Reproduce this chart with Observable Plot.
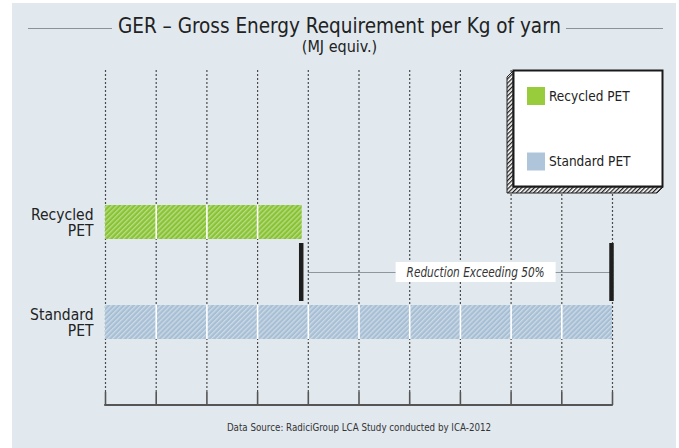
<!DOCTYPE html>
<html>
<head>
<meta charset="utf-8">
<script src="https://cdn.jsdelivr.net/npm/d3@7"></script>
<script src="https://cdn.jsdelivr.net/npm/@observablehq/plot@0.6"></script>
<style>
  body { margin: 0; background: #fff; }
  #wrap { position: relative; width: 679px; height: 448px; overflow: hidden;
    font-family: "DejaVu Sans Condensed", "Liberation Sans Narrow", sans-serif; color: #222; }
  #panel { position: absolute; left: 12px; top: 3px; width: 664px; height: 445px; background: #e1e9ef; }
  #title { position: absolute; left: 0; width: 679px; top: 13px; text-align: center; font-size: 20.5px; line-height: 26px; white-space: nowrap; }
  #title span { display: inline-block; }
  .tline { position: absolute; top: 28px; height: 1px; background: #8a9399; }
  #subtitle { position: absolute; left: 0; width: 679px; top: 38px; text-align: center; font-size: 16px; line-height: 17px; }
  #caption { position: absolute; left: 159px; width: 400px; top: 421px; text-align: center; font-size: 9.7px; line-height: 14px; color: #333; }
  #chart { position: absolute; left: 0; top: 0; }
</style>
</head>
<body>
<div id="wrap">
  <div id="panel"></div>
  <div id="chart"></div>
  <div class="tline" id="tl"></div>
  <div class="tline" id="tr"></div>
  <div id="title"><span id="titletext">GER – Gross Energy Requirement per Kg of yarn</span></div>
  <div id="subtitle">(MJ equiv.)</div>
  <div id="caption">Data Source: RadiciGroup LCA Study conducted by ICA-2012</div>
</div>
<script>
// ---- data ----
const categories = ["Recycled PET", "Standard PET"];
const rowLabels = ["Recycled\nPET", "Standard\nPET"];
const values = [38.8, 100];
const gridTicks = [0, 10, 20, 30, 40, 50, 60, 70, 80, 90, 100];
const barColors = ["#88c334", "#a7bfd4"];
const swatchColors = ["#99cc3d", "#afc5d9"];
const legendLabels = ["Recycled PET", "Standard PET"];
const annotationText = "Reduction Exceeding 50%";
const annotationX = 73;
const gapRow = " ";

const rows = [categories[0], gapRow, categories[1]];
const data = categories.map((c, i) => ({ name: c, label: rowLabels[i], value: values[i] }));
const whiteLines = data.flatMap(d => gridTicks.filter(t => t > 0 && t < d.value).map(t => ({ x: t, name: d.name })));
const lineStart = Math.ceil(values[0] / 10) * 10;

const H = 448, MT = 70, MB = 43;
const chart = Plot.plot({
  width: 679, height: H,
  marginLeft: 105, marginRight: 67, marginTop: MT, marginBottom: MB,
  x: { domain: [0, 100], axis: null },
  y: { type: "band", domain: rows, range: [187.5, 355.5], padding: 0.327, axis: null },
  style: { background: "transparent", overflow: "visible", fontFamily: "DejaVu Sans Condensed, Liberation Sans Narrow, sans-serif" },
  marks: [
    Plot.ruleX(gridTicks, { stroke: "#4a4a4a", strokeDasharray: "2,2", strokeWidth: 1.2, insetBottom: 13 }),
    Plot.ruleX(gridTicks, { stroke: "#555", strokeWidth: 1.6, insetTop: H - MT - MB - 13 }),
    ...data.map((d, i) => Plot.barX([d], { x: "value", y: "name", fill: `url(#hatch${i})` })),
    Plot.ruleX(whiteLines, { x: "x", y1: "name", y2: "name", stroke: "white", strokeWidth: 1.6 }),
    Plot.text(data, { y: "name", frameAnchor: "left", text: "label", textAnchor: "end", dx: -12, fontSize: 15.5, lineHeight: 1.08, fill: "#222" }),
    Plot.ruleY([gapRow], { y: d => d, x1: lineStart, x2: values[1], stroke: "#8e979e", strokeWidth: 1 }),
    Plot.text([annotationText], { x: annotationX, y: () => gapRow, text: d => d, fontStyle: "italic", fontSize: 14, fill: "#333" }),
    Plot.ruleX(data, { x: "value", y1: () => gapRow, y2: () => gapRow, dx: -1, stroke: "#1e1e1e", strokeWidth: 4.5, insetTop: -12, insetBottom: -12 })
  ]
});
document.getElementById("chart").appendChild(chart);

const svg = d3.select(chart);
const defs = svg.insert("defs", ":first-child");
barColors.forEach((c, i) => {
  const p = defs.append("pattern").attr("id", `hatch${i}`).attr("patternUnits", "userSpaceOnUse")
    .attr("width", 3.5).attr("height", 3.5).attr("patternTransform", "rotate(45)");
  p.append("rect").attr("width", 3.5).attr("height", 3.5).attr("fill", c);
  p.append("rect").attr("width", 1.3).attr("height", 3.5).attr("fill", "white").attr("opacity", 0.42);
});
const pk = defs.append("pattern").attr("id", "hatchK").attr("patternUnits", "userSpaceOnUse")
  .attr("width", 3).attr("height", 3).attr("patternTransform", "rotate(45)");
pk.append("rect").attr("width", 3).attr("height", 3).attr("fill", "#fff");
pk.append("rect").attr("width", 1.3).attr("height", 3).attr("fill", "#222");

// baseline of the x axis through the library's x scale
const xs = chart.scale("x");
svg.append("line").attr("x1", xs.apply(0) - 0.8).attr("x2", xs.apply(100) + 0.8)
  .attr("y1", H - MB).attr("y2", H - MB).attr("stroke", "#555").attr("stroke-width", 2);

// condensed annotation with a white box behind it
const annNode = svg.selectAll("text").nodes().find(n => n.textContent === annotationText);
if (annNode) {
  annNode.setAttribute("textLength", 138);
  annNode.setAttribute("lengthAdjust", "spacingAndGlyphs");
  const bb = annNode.getBBox();
  const cx = bb.x + bb.width / 2, cy = bb.y + bb.height / 2;
  const r = d3.create("svg:rect").attr("x", cx - 80).attr("y", cy - 10).attr("width", 160).attr("height", 20)
    .attr("fill", "white").attr("stroke", "none");
  const tf = annNode.getAttribute("transform");
  if (tf) r.attr("transform", tf);
  annNode.parentNode.insertBefore(r.node(), annNode);
}

// legend
const lg = svg.append("g").attr("text-anchor", "start");
lg.append("polygon").attr("points", "513,71 507,77 507,193 657,193 663,187 513,187")
  .attr("fill", "url(#hatchK)").attr("stroke", "#222").attr("stroke-width", 1);
lg.append("rect").attr("x", 513.5).attr("y", 70.5).attr("width", 149).attr("height", 116)
  .attr("fill", "white").attr("stroke", "#1a1a1a").attr("stroke-width", 2);
legendLabels.forEach((l, i) => {
  const cy = 96 + i * 65.5;
  lg.append("rect").attr("x", 527).attr("y", cy - 9).attr("width", 18).attr("height", 18).attr("fill", swatchColors[i]);
  lg.append("text").attr("x", 549).attr("y", cy).attr("dy", "0.35em").attr("text-anchor", "start")
    .attr("font-size", 13.5).attr("fill", "#222").text(l);
});

// title side lines
const tb = document.getElementById("titletext").getBoundingClientRect();
const tl = document.getElementById("tl"), tr = document.getElementById("tr");
tl.style.left = "28px"; tl.style.width = (tb.left - 6 - 28) + "px";
tr.style.left = (tb.right + 5) + "px"; tr.style.width = (663 - tb.right - 5) + "px";
</script>
</body>
</html>
